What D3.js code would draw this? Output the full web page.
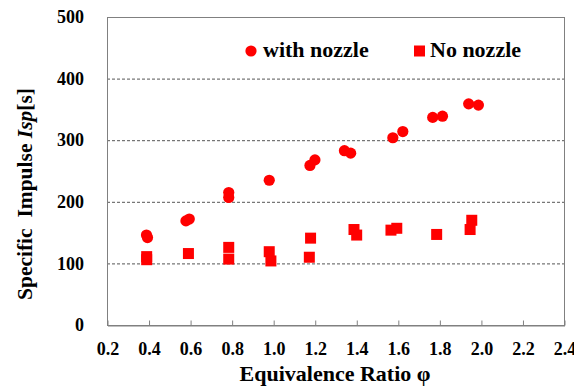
<!DOCTYPE html>
<html>
<head>
<meta charset="utf-8">
<script src="https://cdn.jsdelivr.net/npm/d3@7"></script>
<style>
  html, body { margin: 0; padding: 0; background: #fff; }
  svg { display: block; }
</style>
</head>
<body>
<svg id="chart" width="574" height="387"></svg>
<script>
// Data
const withNozzlePhi = [0.39, 0.395, 0.58, 0.596, 0.786, 0.786, 0.981, 1.177, 1.201, 1.343, 1.373, 1.576, 1.624, 1.768, 1.815, 1.941, 1.988];
const withNozzleIsp = [146, 142, 169, 172, 215, 207, 235, 259, 268, 283, 279, 304, 314, 337, 339, 359, 357];
const noNozzlePhi = [0.391, 0.391, 0.592, 0.786, 0.786, 0.981, 0.989, 1.18, 1.174, 1.389, 1.402, 1.567, 1.595, 1.787, 1.948, 1.956];
const noNozzleIsp = [111, 106, 116, 126, 107, 119, 104, 141, 110, 155, 146, 154, 157, 147, 155, 170];
const xTicks = [0.2, 0.4, 0.6, 0.8, 1.0, 1.2, 1.4, 1.6, 1.8, 2.0, 2.2, 2.4];
const yTicks = [0, 100, 200, 300, 400, 500];
const seriesNames = ["with nozzle", "No nozzle"];

const FONT = "'Liberation Serif', 'Times New Roman', Tinos, 'DejaVu Serif', serif";
const svg = d3.select("#chart").attr("font-family", FONT).attr("font-weight", "bold");
const L = 107, R = 564, T = 17, B = 325;
const x = d3.scaleLinear().domain([0.2, 2.4]).range([L, R]);
const y = d3.scaleLinear().domain([0, 500]).range([B, T]);

function styleText(sel, size) {
  sel.style("font-family", FONT).style("font-weight", "bold").style("font-size", size + "px").attr("fill", "#000");
}

// gridlines
svg.append("g").selectAll("line").data(yTicks.filter(v => v > 0 && v < 500)).join("line")
  .attr("x1", L).attr("x2", R)
  .attr("y1", d => y(d) + 0.5).attr("y2", d => y(d) + 0.5)
  .attr("stroke", "#555").attr("stroke-width", 1).attr("stroke-dasharray", "3,2");

// frame
svg.append("rect").attr("x", L + 0.5).attr("y", T + 0.5)
  .attr("width", R - L).attr("height", B - T)
  .attr("fill", "none").attr("stroke", "#808080").attr("stroke-width", 1);

// x axis (inward ticks)
const xAxis = d3.axisBottom(x).tickValues(xTicks).tickFormat(d3.format(".1f")).tickSizeInner(-5).tickSizeOuter(0).tickPadding(17);
const gx = svg.append("g").attr("transform", `translate(0.5,${B + 0.5})`).call(xAxis);
gx.attr("font-family", null).attr("font-size", null);
gx.select(".domain").attr("stroke", "#808080");
gx.selectAll(".tick line").attr("stroke", "#808080");
styleText(gx.selectAll(".tick text"), 18);

// y axis labels
const yAxis = d3.axisLeft(y).tickValues(yTicks).tickSize(0).tickPadding(23);
const gy = svg.append("g").attr("transform", `translate(${L},0)`).call(yAxis);
gy.attr("font-family", null).attr("font-size", null);
gy.select(".domain").remove();
styleText(gy.selectAll(".tick text"), 18);

// axis titles
styleText(svg.append("text").attr("x", 335).attr("y", 381).attr("text-anchor", "middle")
  .text("Equivalence Ratio φ"), 22);

const yt = svg.append("text").attr("transform", "translate(32,194) rotate(-90)")
  .attr("text-anchor", "middle");
styleText(yt, 21.5);
yt.append("tspan").text("Specific\u00a0 Impulse ");
yt.append("tspan").style("font-style", "italic").text("Isp");
yt.append("tspan").text("[s]");

// data points
const withData = withNozzlePhi.map((p, i) => [p, withNozzleIsp[i]]);
const noData = noNozzlePhi.map((p, i) => [p, noNozzleIsp[i]]);
svg.append("g").selectAll("circle").data(withData).join("circle")
  .attr("cx", d => x(d[0])).attr("cy", d => y(d[1])).attr("r", 5.6).attr("fill", "#ff0000");
const sq = 11;
svg.append("g").selectAll("rect").data(noData).join("rect")
  .attr("x", d => x(d[0]) - sq / 2).attr("y", d => y(d[1]) - sq / 2)
  .attr("width", sq).attr("height", sq).attr("fill", "#ff0000");

// legend
svg.append("circle").attr("cx", 251).attr("cy", 51).attr("r", 5.6).attr("fill", "#ff0000");
styleText(svg.append("text").attr("x", 263).attr("y", 57).text(seriesNames[0]), 22);
svg.append("rect").attr("x", 414).attr("y", 45.5).attr("width", 11).attr("height", 11).attr("fill", "#ff0000");
styleText(svg.append("text").attr("x", 430).attr("y", 57).text(seriesNames[1]), 22);
</script>
</body>
</html>
